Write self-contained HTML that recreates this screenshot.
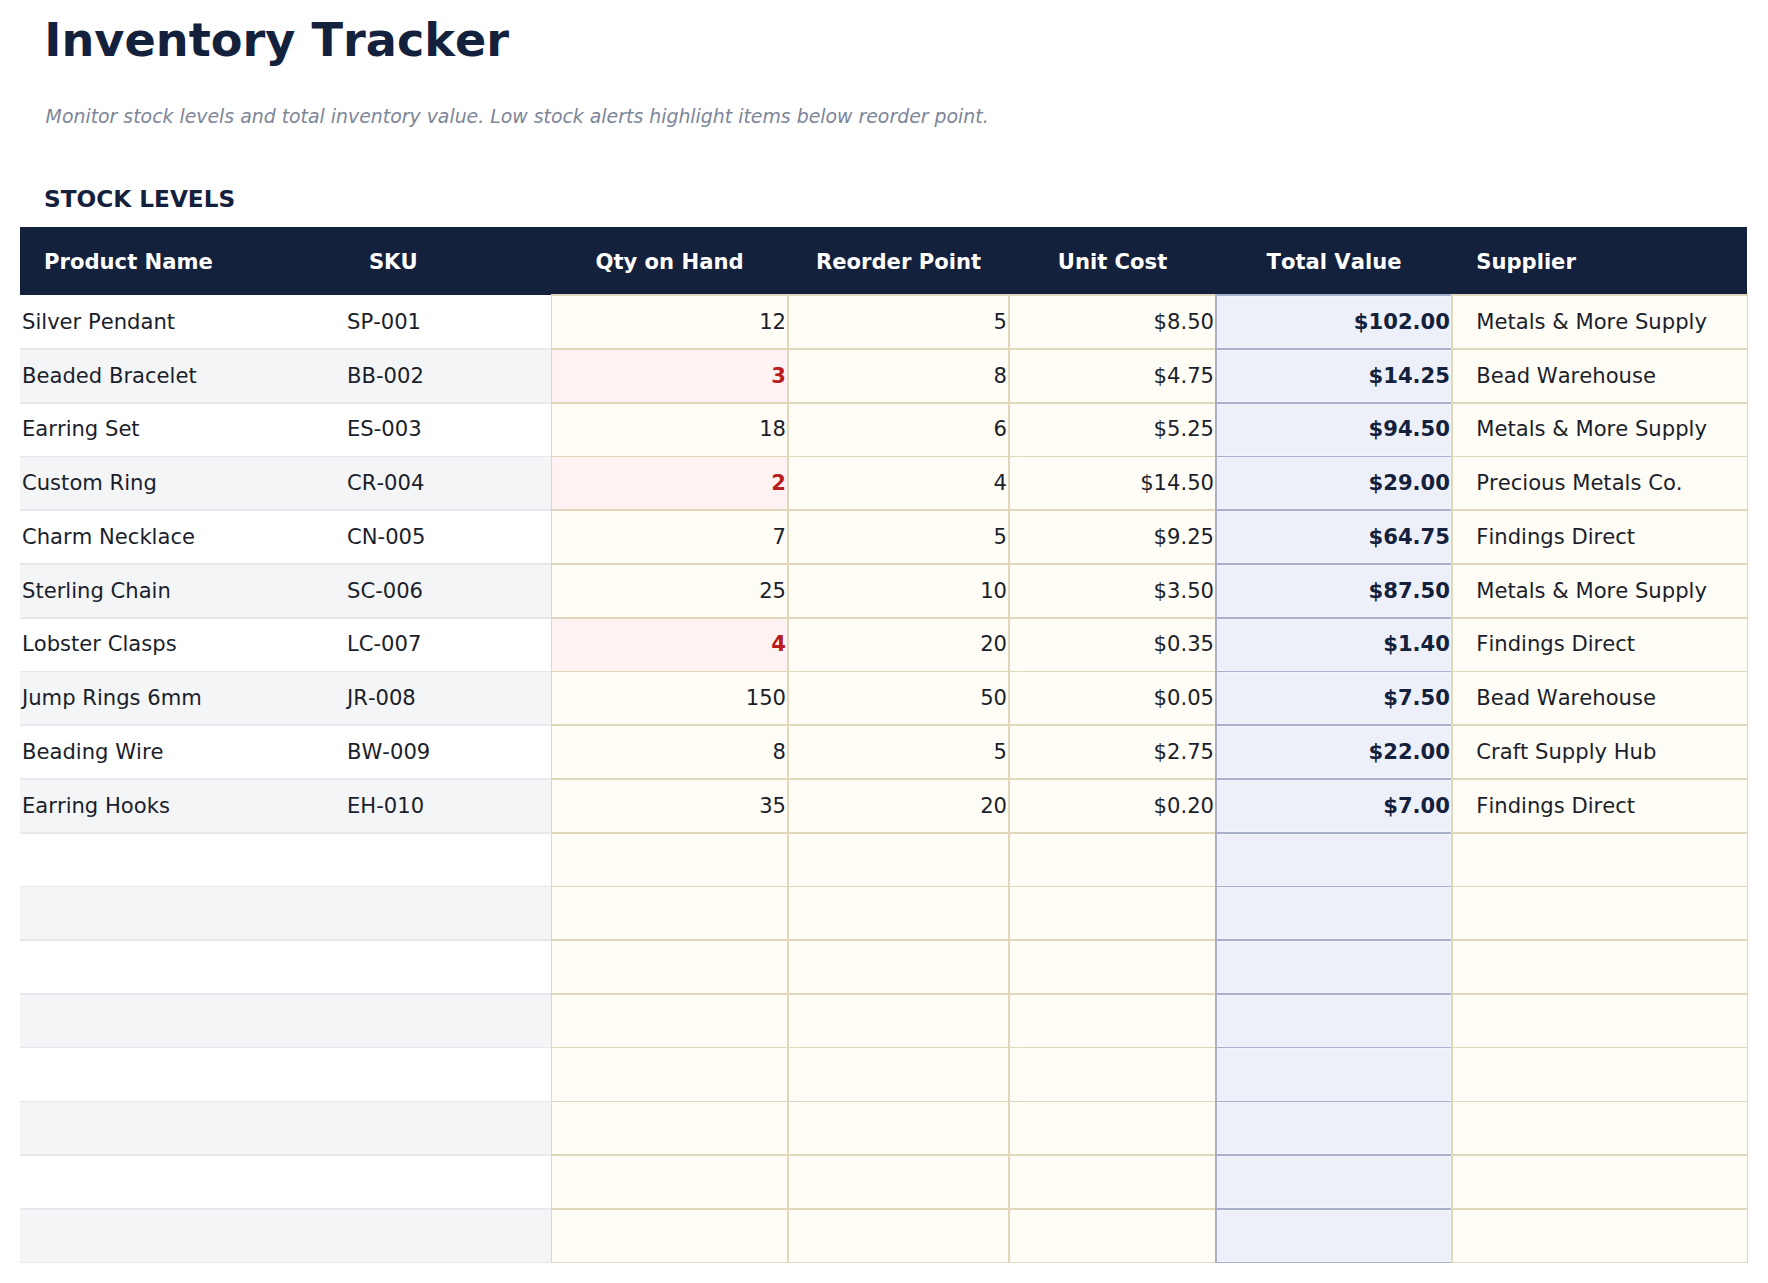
<!DOCTYPE html><html lang="en"><head><meta charset="utf-8"><title>Inventory Tracker</title><style>
*{box-sizing:border-box;margin:0;padding:0}
html,body{width:1768px;height:1283px;background:#fff;overflow:hidden}
body{position:relative;font-kerning:none;font-variant-ligatures:none;font-family:"DejaVu Sans","Liberation Sans",sans-serif;color:#1b1e2b;font-size:21.12px}
.abs,.c,.r,.h,.hl,.vl{position:absolute;white-space:nowrap}
h1{position:absolute;left:44.3px;top:9.6px;font-size:46.2px;line-height:60px;font-weight:bold;color:#14213d;white-space:nowrap}
.sub{left:45.6px;top:101px;font-size:18.89px;line-height:30px;font-style:italic;color:#7d8699}
h2{position:absolute;left:44px;top:183.4px;font-size:23.2px;line-height:32px;font-weight:bold;color:#14213d;white-space:nowrap}
.head{left:20px;top:227px;width:1727px;height:68px;background:#14213d}
.h{top:228px;height:68px;line-height:68px;color:#fff;font-weight:bold;text-align:center}
.r{left:20px;width:531px}
.r.g{background:#f4f5f7}
.c{line-height:inherit}
.cream{background:#fffdf6}
.pink{background:#fef2f2}
.tot{background:#edf0f9}
.num{text-align:right;padding-right:2.5px}
.low{color:#b91c1c;font-weight:bold}
.tv{font-weight:bold;color:#14213d}
.hl,.vl{pointer-events:none}
.ring{position:absolute;border:1px solid #f2f4fb}
</style></head><body>
<h1>Inventory Tracker</h1>
<div class="abs sub">Monitor stock levels and total inventory value. Low stock alerts highlight items below reorder point.</div>
<h2>STOCK LEVELS</h2>
<div class="abs head"></div>
<div class="h" style="left:44.1px;text-align:left">Product Name</div>
<div class="h" style="left:345px;width:96.5px">SKU</div>
<div class="h" style="left:551px;width:237px">Qty on Hand</div>
<div class="h" style="left:788px;width:221px">Reorder Point</div>
<div class="h" style="left:1009px;width:207px">Unit Cost</div>
<div class="h" style="left:1216px;width:236px">Total Value</div>
<div class="h" style="left:1476.2px;text-align:left">Supplier</div>
<div class="r" style="top:294px;height:54px"></div>
<div class="c " style="left:20px;width:325px;top:294px;height:54px"><div style="position:absolute;left:0;right:0;top:0.82px;line-height:53.76px;padding-left:2px">Silver Pendant</div></div>
<div class="c " style="left:345px;width:206px;top:294px;height:54px"><div style="position:absolute;left:0;right:0;top:0.82px;line-height:53.76px;padding-left:2px">SP-001</div></div>
<div class="c cream" style="left:551px;width:237px;top:294px;height:54px"><div style="position:absolute;left:0;right:0;top:0.82px;line-height:53.76px;text-align:right;padding-right:2px">12</div></div>
<div class="c cream" style="left:788px;width:221px;top:294px;height:54px"><div style="position:absolute;left:0;right:0;top:0.82px;line-height:53.76px;text-align:right;padding-right:2px">5</div></div>
<div class="c cream" style="left:1009px;width:207px;top:294px;height:54px"><div style="position:absolute;left:0;right:0;top:0.82px;line-height:53.76px;text-align:right;padding-right:2px">$8.50</div></div>
<div class="c tot" style="left:1216px;width:236px;top:294px;height:54px"><div style="position:absolute;left:0;right:0;top:0.82px;line-height:53.76px;text-align:right;padding-right:2px"><span class="tv">$102.00</span></div></div>
<div class="ring" style="left:1217px;width:234px;top:296px;height:52px"></div>
<div class="c cream" style="left:1452px;width:296px;top:294px;height:54px"><div style="position:absolute;left:0;right:0;top:0.82px;line-height:53.76px;padding-left:24.3px">Metals &amp; More Supply</div></div>
<div class="r g" style="top:348px;height:54px"></div>
<div class="c " style="left:20px;width:325px;top:348px;height:54px"><div style="position:absolute;left:0;right:0;top:0.58px;line-height:53.76px;padding-left:2px">Beaded Bracelet</div></div>
<div class="c " style="left:345px;width:206px;top:348px;height:54px"><div style="position:absolute;left:0;right:0;top:0.58px;line-height:53.76px;padding-left:2px">BB-002</div></div>
<div class="c pink" style="left:551px;width:237px;top:348px;height:54px"><div style="position:absolute;left:0;right:0;top:0.58px;line-height:53.76px;text-align:right;padding-right:2px"><span class="low">3</span></div></div>
<div class="c cream" style="left:788px;width:221px;top:348px;height:54px"><div style="position:absolute;left:0;right:0;top:0.58px;line-height:53.76px;text-align:right;padding-right:2px">8</div></div>
<div class="c cream" style="left:1009px;width:207px;top:348px;height:54px"><div style="position:absolute;left:0;right:0;top:0.58px;line-height:53.76px;text-align:right;padding-right:2px">$4.75</div></div>
<div class="c tot" style="left:1216px;width:236px;top:348px;height:54px"><div style="position:absolute;left:0;right:0;top:0.58px;line-height:53.76px;text-align:right;padding-right:2px"><span class="tv">$14.25</span></div></div>
<div class="ring" style="left:1217px;width:234px;top:350px;height:52px"></div>
<div class="c cream" style="left:1452px;width:296px;top:348px;height:54px"><div style="position:absolute;left:0;right:0;top:0.58px;line-height:53.76px;padding-left:24.3px">Bead Warehouse</div></div>
<div class="r" style="top:402px;height:54px"></div>
<div class="c " style="left:20px;width:325px;top:402px;height:54px"><div style="position:absolute;left:0;right:0;top:0.34px;line-height:53.76px;padding-left:2px">Earring Set</div></div>
<div class="c " style="left:345px;width:206px;top:402px;height:54px"><div style="position:absolute;left:0;right:0;top:0.34px;line-height:53.76px;padding-left:2px">ES-003</div></div>
<div class="c cream" style="left:551px;width:237px;top:402px;height:54px"><div style="position:absolute;left:0;right:0;top:0.34px;line-height:53.76px;text-align:right;padding-right:2px">18</div></div>
<div class="c cream" style="left:788px;width:221px;top:402px;height:54px"><div style="position:absolute;left:0;right:0;top:0.34px;line-height:53.76px;text-align:right;padding-right:2px">6</div></div>
<div class="c cream" style="left:1009px;width:207px;top:402px;height:54px"><div style="position:absolute;left:0;right:0;top:0.34px;line-height:53.76px;text-align:right;padding-right:2px">$5.25</div></div>
<div class="c tot" style="left:1216px;width:236px;top:402px;height:54px"><div style="position:absolute;left:0;right:0;top:0.34px;line-height:53.76px;text-align:right;padding-right:2px"><span class="tv">$94.50</span></div></div>
<div class="ring" style="left:1217px;width:234px;top:404px;height:52px"></div>
<div class="c cream" style="left:1452px;width:296px;top:402px;height:54px"><div style="position:absolute;left:0;right:0;top:0.34px;line-height:53.76px;padding-left:24.3px">Metals &amp; More Supply</div></div>
<div class="r g" style="top:456px;height:53px"></div>
<div class="c " style="left:20px;width:325px;top:456px;height:53px"><div style="position:absolute;left:0;right:0;top:0.10px;line-height:53.76px;padding-left:2px">Custom Ring</div></div>
<div class="c " style="left:345px;width:206px;top:456px;height:53px"><div style="position:absolute;left:0;right:0;top:0.10px;line-height:53.76px;padding-left:2px">CR-004</div></div>
<div class="c pink" style="left:551px;width:237px;top:456px;height:53px"><div style="position:absolute;left:0;right:0;top:0.10px;line-height:53.76px;text-align:right;padding-right:2px"><span class="low">2</span></div></div>
<div class="c cream" style="left:788px;width:221px;top:456px;height:53px"><div style="position:absolute;left:0;right:0;top:0.10px;line-height:53.76px;text-align:right;padding-right:2px">4</div></div>
<div class="c cream" style="left:1009px;width:207px;top:456px;height:53px"><div style="position:absolute;left:0;right:0;top:0.10px;line-height:53.76px;text-align:right;padding-right:2px">$14.50</div></div>
<div class="c tot" style="left:1216px;width:236px;top:456px;height:53px"><div style="position:absolute;left:0;right:0;top:0.10px;line-height:53.76px;text-align:right;padding-right:2px"><span class="tv">$29.00</span></div></div>
<div class="ring" style="left:1217px;width:234px;top:457px;height:52px"></div>
<div class="c cream" style="left:1452px;width:296px;top:456px;height:53px"><div style="position:absolute;left:0;right:0;top:0.10px;line-height:53.76px;padding-left:24.3px">Precious Metals Co.</div></div>
<div class="r" style="top:509px;height:54px"></div>
<div class="c " style="left:20px;width:325px;top:509px;height:54px"><div style="position:absolute;left:0;right:0;top:0.86px;line-height:53.76px;padding-left:2px">Charm Necklace</div></div>
<div class="c " style="left:345px;width:206px;top:509px;height:54px"><div style="position:absolute;left:0;right:0;top:0.86px;line-height:53.76px;padding-left:2px">CN-005</div></div>
<div class="c cream" style="left:551px;width:237px;top:509px;height:54px"><div style="position:absolute;left:0;right:0;top:0.86px;line-height:53.76px;text-align:right;padding-right:2px">7</div></div>
<div class="c cream" style="left:788px;width:221px;top:509px;height:54px"><div style="position:absolute;left:0;right:0;top:0.86px;line-height:53.76px;text-align:right;padding-right:2px">5</div></div>
<div class="c cream" style="left:1009px;width:207px;top:509px;height:54px"><div style="position:absolute;left:0;right:0;top:0.86px;line-height:53.76px;text-align:right;padding-right:2px">$9.25</div></div>
<div class="c tot" style="left:1216px;width:236px;top:509px;height:54px"><div style="position:absolute;left:0;right:0;top:0.86px;line-height:53.76px;text-align:right;padding-right:2px"><span class="tv">$64.75</span></div></div>
<div class="ring" style="left:1217px;width:234px;top:511px;height:52px"></div>
<div class="c cream" style="left:1452px;width:296px;top:509px;height:54px"><div style="position:absolute;left:0;right:0;top:0.86px;line-height:53.76px;padding-left:24.3px">Findings Direct</div></div>
<div class="r g" style="top:563px;height:54px"></div>
<div class="c " style="left:20px;width:325px;top:563px;height:54px"><div style="position:absolute;left:0;right:0;top:0.62px;line-height:53.76px;padding-left:2px">Sterling Chain</div></div>
<div class="c " style="left:345px;width:206px;top:563px;height:54px"><div style="position:absolute;left:0;right:0;top:0.62px;line-height:53.76px;padding-left:2px">SC-006</div></div>
<div class="c cream" style="left:551px;width:237px;top:563px;height:54px"><div style="position:absolute;left:0;right:0;top:0.62px;line-height:53.76px;text-align:right;padding-right:2px">25</div></div>
<div class="c cream" style="left:788px;width:221px;top:563px;height:54px"><div style="position:absolute;left:0;right:0;top:0.62px;line-height:53.76px;text-align:right;padding-right:2px">10</div></div>
<div class="c cream" style="left:1009px;width:207px;top:563px;height:54px"><div style="position:absolute;left:0;right:0;top:0.62px;line-height:53.76px;text-align:right;padding-right:2px">$3.50</div></div>
<div class="c tot" style="left:1216px;width:236px;top:563px;height:54px"><div style="position:absolute;left:0;right:0;top:0.62px;line-height:53.76px;text-align:right;padding-right:2px"><span class="tv">$87.50</span></div></div>
<div class="ring" style="left:1217px;width:234px;top:565px;height:52px"></div>
<div class="c cream" style="left:1452px;width:296px;top:563px;height:54px"><div style="position:absolute;left:0;right:0;top:0.62px;line-height:53.76px;padding-left:24.3px">Metals &amp; More Supply</div></div>
<div class="r" style="top:617px;height:54px"></div>
<div class="c " style="left:20px;width:325px;top:617px;height:54px"><div style="position:absolute;left:0;right:0;top:0.38px;line-height:53.76px;padding-left:2px">Lobster Clasps</div></div>
<div class="c " style="left:345px;width:206px;top:617px;height:54px"><div style="position:absolute;left:0;right:0;top:0.38px;line-height:53.76px;padding-left:2px">LC-007</div></div>
<div class="c pink" style="left:551px;width:237px;top:617px;height:54px"><div style="position:absolute;left:0;right:0;top:0.38px;line-height:53.76px;text-align:right;padding-right:2px"><span class="low">4</span></div></div>
<div class="c cream" style="left:788px;width:221px;top:617px;height:54px"><div style="position:absolute;left:0;right:0;top:0.38px;line-height:53.76px;text-align:right;padding-right:2px">20</div></div>
<div class="c cream" style="left:1009px;width:207px;top:617px;height:54px"><div style="position:absolute;left:0;right:0;top:0.38px;line-height:53.76px;text-align:right;padding-right:2px">$0.35</div></div>
<div class="c tot" style="left:1216px;width:236px;top:617px;height:54px"><div style="position:absolute;left:0;right:0;top:0.38px;line-height:53.76px;text-align:right;padding-right:2px"><span class="tv">$1.40</span></div></div>
<div class="ring" style="left:1217px;width:234px;top:619px;height:52px"></div>
<div class="c cream" style="left:1452px;width:296px;top:617px;height:54px"><div style="position:absolute;left:0;right:0;top:0.38px;line-height:53.76px;padding-left:24.3px">Findings Direct</div></div>
<div class="r g" style="top:671px;height:53px"></div>
<div class="c " style="left:20px;width:325px;top:671px;height:53px"><div style="position:absolute;left:0;right:0;top:0.14px;line-height:53.76px;padding-left:2px">Jump Rings 6mm</div></div>
<div class="c " style="left:345px;width:206px;top:671px;height:53px"><div style="position:absolute;left:0;right:0;top:0.14px;line-height:53.76px;padding-left:2px">JR-008</div></div>
<div class="c cream" style="left:551px;width:237px;top:671px;height:53px"><div style="position:absolute;left:0;right:0;top:0.14px;line-height:53.76px;text-align:right;padding-right:2px">150</div></div>
<div class="c cream" style="left:788px;width:221px;top:671px;height:53px"><div style="position:absolute;left:0;right:0;top:0.14px;line-height:53.76px;text-align:right;padding-right:2px">50</div></div>
<div class="c cream" style="left:1009px;width:207px;top:671px;height:53px"><div style="position:absolute;left:0;right:0;top:0.14px;line-height:53.76px;text-align:right;padding-right:2px">$0.05</div></div>
<div class="c tot" style="left:1216px;width:236px;top:671px;height:53px"><div style="position:absolute;left:0;right:0;top:0.14px;line-height:53.76px;text-align:right;padding-right:2px"><span class="tv">$7.50</span></div></div>
<div class="ring" style="left:1217px;width:234px;top:672px;height:52px"></div>
<div class="c cream" style="left:1452px;width:296px;top:671px;height:53px"><div style="position:absolute;left:0;right:0;top:0.14px;line-height:53.76px;padding-left:24.3px">Bead Warehouse</div></div>
<div class="r" style="top:724px;height:54px"></div>
<div class="c " style="left:20px;width:325px;top:724px;height:54px"><div style="position:absolute;left:0;right:0;top:0.90px;line-height:53.76px;padding-left:2px">Beading Wire</div></div>
<div class="c " style="left:345px;width:206px;top:724px;height:54px"><div style="position:absolute;left:0;right:0;top:0.90px;line-height:53.76px;padding-left:2px">BW-009</div></div>
<div class="c cream" style="left:551px;width:237px;top:724px;height:54px"><div style="position:absolute;left:0;right:0;top:0.90px;line-height:53.76px;text-align:right;padding-right:2px">8</div></div>
<div class="c cream" style="left:788px;width:221px;top:724px;height:54px"><div style="position:absolute;left:0;right:0;top:0.90px;line-height:53.76px;text-align:right;padding-right:2px">5</div></div>
<div class="c cream" style="left:1009px;width:207px;top:724px;height:54px"><div style="position:absolute;left:0;right:0;top:0.90px;line-height:53.76px;text-align:right;padding-right:2px">$2.75</div></div>
<div class="c tot" style="left:1216px;width:236px;top:724px;height:54px"><div style="position:absolute;left:0;right:0;top:0.90px;line-height:53.76px;text-align:right;padding-right:2px"><span class="tv">$22.00</span></div></div>
<div class="ring" style="left:1217px;width:234px;top:726px;height:52px"></div>
<div class="c cream" style="left:1452px;width:296px;top:724px;height:54px"><div style="position:absolute;left:0;right:0;top:0.90px;line-height:53.76px;padding-left:24.3px">Craft Supply Hub</div></div>
<div class="r g" style="top:778px;height:54px"></div>
<div class="c " style="left:20px;width:325px;top:778px;height:54px"><div style="position:absolute;left:0;right:0;top:0.66px;line-height:53.76px;padding-left:2px">Earring Hooks</div></div>
<div class="c " style="left:345px;width:206px;top:778px;height:54px"><div style="position:absolute;left:0;right:0;top:0.66px;line-height:53.76px;padding-left:2px">EH-010</div></div>
<div class="c cream" style="left:551px;width:237px;top:778px;height:54px"><div style="position:absolute;left:0;right:0;top:0.66px;line-height:53.76px;text-align:right;padding-right:2px">35</div></div>
<div class="c cream" style="left:788px;width:221px;top:778px;height:54px"><div style="position:absolute;left:0;right:0;top:0.66px;line-height:53.76px;text-align:right;padding-right:2px">20</div></div>
<div class="c cream" style="left:1009px;width:207px;top:778px;height:54px"><div style="position:absolute;left:0;right:0;top:0.66px;line-height:53.76px;text-align:right;padding-right:2px">$0.20</div></div>
<div class="c tot" style="left:1216px;width:236px;top:778px;height:54px"><div style="position:absolute;left:0;right:0;top:0.66px;line-height:53.76px;text-align:right;padding-right:2px"><span class="tv">$7.00</span></div></div>
<div class="ring" style="left:1217px;width:234px;top:780px;height:52px"></div>
<div class="c cream" style="left:1452px;width:296px;top:778px;height:54px"><div style="position:absolute;left:0;right:0;top:0.66px;line-height:53.76px;padding-left:24.3px">Findings Direct</div></div>
<div class="r" style="top:832px;height:54px"></div>
<div class="c " style="left:20px;width:325px;top:832px;height:54px"><div style="position:absolute;left:0;right:0;top:0.42px;line-height:53.76px;padding-left:2px"></div></div>
<div class="c " style="left:345px;width:206px;top:832px;height:54px"><div style="position:absolute;left:0;right:0;top:0.42px;line-height:53.76px;padding-left:2px"></div></div>
<div class="c cream" style="left:551px;width:237px;top:832px;height:54px"><div style="position:absolute;left:0;right:0;top:0.42px;line-height:53.76px;text-align:right;padding-right:2px"></div></div>
<div class="c cream" style="left:788px;width:221px;top:832px;height:54px"><div style="position:absolute;left:0;right:0;top:0.42px;line-height:53.76px;text-align:right;padding-right:2px"></div></div>
<div class="c cream" style="left:1009px;width:207px;top:832px;height:54px"><div style="position:absolute;left:0;right:0;top:0.42px;line-height:53.76px;text-align:right;padding-right:2px"></div></div>
<div class="c tot" style="left:1216px;width:236px;top:832px;height:54px"><div style="position:absolute;left:0;right:0;top:0.42px;line-height:53.76px;text-align:right;padding-right:2px"><span class="tv"></span></div></div>
<div class="ring" style="left:1217px;width:234px;top:834px;height:52px"></div>
<div class="c cream" style="left:1452px;width:296px;top:832px;height:54px"><div style="position:absolute;left:0;right:0;top:0.42px;line-height:53.76px;padding-left:24.3px"></div></div>
<div class="r g" style="top:886px;height:53px"></div>
<div class="c " style="left:20px;width:325px;top:886px;height:53px"><div style="position:absolute;left:0;right:0;top:0.18px;line-height:53.76px;padding-left:2px"></div></div>
<div class="c " style="left:345px;width:206px;top:886px;height:53px"><div style="position:absolute;left:0;right:0;top:0.18px;line-height:53.76px;padding-left:2px"></div></div>
<div class="c cream" style="left:551px;width:237px;top:886px;height:53px"><div style="position:absolute;left:0;right:0;top:0.18px;line-height:53.76px;text-align:right;padding-right:2px"></div></div>
<div class="c cream" style="left:788px;width:221px;top:886px;height:53px"><div style="position:absolute;left:0;right:0;top:0.18px;line-height:53.76px;text-align:right;padding-right:2px"></div></div>
<div class="c cream" style="left:1009px;width:207px;top:886px;height:53px"><div style="position:absolute;left:0;right:0;top:0.18px;line-height:53.76px;text-align:right;padding-right:2px"></div></div>
<div class="c tot" style="left:1216px;width:236px;top:886px;height:53px"><div style="position:absolute;left:0;right:0;top:0.18px;line-height:53.76px;text-align:right;padding-right:2px"><span class="tv"></span></div></div>
<div class="ring" style="left:1217px;width:234px;top:887px;height:52px"></div>
<div class="c cream" style="left:1452px;width:296px;top:886px;height:53px"><div style="position:absolute;left:0;right:0;top:0.18px;line-height:53.76px;padding-left:24.3px"></div></div>
<div class="r" style="top:939px;height:54px"></div>
<div class="c " style="left:20px;width:325px;top:939px;height:54px"><div style="position:absolute;left:0;right:0;top:0.94px;line-height:53.76px;padding-left:2px"></div></div>
<div class="c " style="left:345px;width:206px;top:939px;height:54px"><div style="position:absolute;left:0;right:0;top:0.94px;line-height:53.76px;padding-left:2px"></div></div>
<div class="c cream" style="left:551px;width:237px;top:939px;height:54px"><div style="position:absolute;left:0;right:0;top:0.94px;line-height:53.76px;text-align:right;padding-right:2px"></div></div>
<div class="c cream" style="left:788px;width:221px;top:939px;height:54px"><div style="position:absolute;left:0;right:0;top:0.94px;line-height:53.76px;text-align:right;padding-right:2px"></div></div>
<div class="c cream" style="left:1009px;width:207px;top:939px;height:54px"><div style="position:absolute;left:0;right:0;top:0.94px;line-height:53.76px;text-align:right;padding-right:2px"></div></div>
<div class="c tot" style="left:1216px;width:236px;top:939px;height:54px"><div style="position:absolute;left:0;right:0;top:0.94px;line-height:53.76px;text-align:right;padding-right:2px"><span class="tv"></span></div></div>
<div class="ring" style="left:1217px;width:234px;top:941px;height:52px"></div>
<div class="c cream" style="left:1452px;width:296px;top:939px;height:54px"><div style="position:absolute;left:0;right:0;top:0.94px;line-height:53.76px;padding-left:24.3px"></div></div>
<div class="r g" style="top:993px;height:54px"></div>
<div class="c " style="left:20px;width:325px;top:993px;height:54px"><div style="position:absolute;left:0;right:0;top:0.70px;line-height:53.76px;padding-left:2px"></div></div>
<div class="c " style="left:345px;width:206px;top:993px;height:54px"><div style="position:absolute;left:0;right:0;top:0.70px;line-height:53.76px;padding-left:2px"></div></div>
<div class="c cream" style="left:551px;width:237px;top:993px;height:54px"><div style="position:absolute;left:0;right:0;top:0.70px;line-height:53.76px;text-align:right;padding-right:2px"></div></div>
<div class="c cream" style="left:788px;width:221px;top:993px;height:54px"><div style="position:absolute;left:0;right:0;top:0.70px;line-height:53.76px;text-align:right;padding-right:2px"></div></div>
<div class="c cream" style="left:1009px;width:207px;top:993px;height:54px"><div style="position:absolute;left:0;right:0;top:0.70px;line-height:53.76px;text-align:right;padding-right:2px"></div></div>
<div class="c tot" style="left:1216px;width:236px;top:993px;height:54px"><div style="position:absolute;left:0;right:0;top:0.70px;line-height:53.76px;text-align:right;padding-right:2px"><span class="tv"></span></div></div>
<div class="ring" style="left:1217px;width:234px;top:995px;height:52px"></div>
<div class="c cream" style="left:1452px;width:296px;top:993px;height:54px"><div style="position:absolute;left:0;right:0;top:0.70px;line-height:53.76px;padding-left:24.3px"></div></div>
<div class="r" style="top:1047px;height:54px"></div>
<div class="c " style="left:20px;width:325px;top:1047px;height:54px"><div style="position:absolute;left:0;right:0;top:0.46px;line-height:53.76px;padding-left:2px"></div></div>
<div class="c " style="left:345px;width:206px;top:1047px;height:54px"><div style="position:absolute;left:0;right:0;top:0.46px;line-height:53.76px;padding-left:2px"></div></div>
<div class="c cream" style="left:551px;width:237px;top:1047px;height:54px"><div style="position:absolute;left:0;right:0;top:0.46px;line-height:53.76px;text-align:right;padding-right:2px"></div></div>
<div class="c cream" style="left:788px;width:221px;top:1047px;height:54px"><div style="position:absolute;left:0;right:0;top:0.46px;line-height:53.76px;text-align:right;padding-right:2px"></div></div>
<div class="c cream" style="left:1009px;width:207px;top:1047px;height:54px"><div style="position:absolute;left:0;right:0;top:0.46px;line-height:53.76px;text-align:right;padding-right:2px"></div></div>
<div class="c tot" style="left:1216px;width:236px;top:1047px;height:54px"><div style="position:absolute;left:0;right:0;top:0.46px;line-height:53.76px;text-align:right;padding-right:2px"><span class="tv"></span></div></div>
<div class="ring" style="left:1217px;width:234px;top:1048px;height:53px"></div>
<div class="c cream" style="left:1452px;width:296px;top:1047px;height:54px"><div style="position:absolute;left:0;right:0;top:0.46px;line-height:53.76px;padding-left:24.3px"></div></div>
<div class="r g" style="top:1101px;height:53px"></div>
<div class="c " style="left:20px;width:325px;top:1101px;height:53px"><div style="position:absolute;left:0;right:0;top:0.22px;line-height:53.76px;padding-left:2px"></div></div>
<div class="c " style="left:345px;width:206px;top:1101px;height:53px"><div style="position:absolute;left:0;right:0;top:0.22px;line-height:53.76px;padding-left:2px"></div></div>
<div class="c cream" style="left:551px;width:237px;top:1101px;height:53px"><div style="position:absolute;left:0;right:0;top:0.22px;line-height:53.76px;text-align:right;padding-right:2px"></div></div>
<div class="c cream" style="left:788px;width:221px;top:1101px;height:53px"><div style="position:absolute;left:0;right:0;top:0.22px;line-height:53.76px;text-align:right;padding-right:2px"></div></div>
<div class="c cream" style="left:1009px;width:207px;top:1101px;height:53px"><div style="position:absolute;left:0;right:0;top:0.22px;line-height:53.76px;text-align:right;padding-right:2px"></div></div>
<div class="c tot" style="left:1216px;width:236px;top:1101px;height:53px"><div style="position:absolute;left:0;right:0;top:0.22px;line-height:53.76px;text-align:right;padding-right:2px"><span class="tv"></span></div></div>
<div class="ring" style="left:1217px;width:234px;top:1102px;height:52px"></div>
<div class="c cream" style="left:1452px;width:296px;top:1101px;height:53px"><div style="position:absolute;left:0;right:0;top:0.22px;line-height:53.76px;padding-left:24.3px"></div></div>
<div class="r" style="top:1154px;height:54px"></div>
<div class="c " style="left:20px;width:325px;top:1154px;height:54px"><div style="position:absolute;left:0;right:0;top:0.98px;line-height:53.76px;padding-left:2px"></div></div>
<div class="c " style="left:345px;width:206px;top:1154px;height:54px"><div style="position:absolute;left:0;right:0;top:0.98px;line-height:53.76px;padding-left:2px"></div></div>
<div class="c cream" style="left:551px;width:237px;top:1154px;height:54px"><div style="position:absolute;left:0;right:0;top:0.98px;line-height:53.76px;text-align:right;padding-right:2px"></div></div>
<div class="c cream" style="left:788px;width:221px;top:1154px;height:54px"><div style="position:absolute;left:0;right:0;top:0.98px;line-height:53.76px;text-align:right;padding-right:2px"></div></div>
<div class="c cream" style="left:1009px;width:207px;top:1154px;height:54px"><div style="position:absolute;left:0;right:0;top:0.98px;line-height:53.76px;text-align:right;padding-right:2px"></div></div>
<div class="c tot" style="left:1216px;width:236px;top:1154px;height:54px"><div style="position:absolute;left:0;right:0;top:0.98px;line-height:53.76px;text-align:right;padding-right:2px"><span class="tv"></span></div></div>
<div class="ring" style="left:1217px;width:234px;top:1156px;height:52px"></div>
<div class="c cream" style="left:1452px;width:296px;top:1154px;height:54px"><div style="position:absolute;left:0;right:0;top:0.98px;line-height:53.76px;padding-left:24.3px"></div></div>
<div class="r g" style="top:1208px;height:54px"></div>
<div class="c " style="left:20px;width:325px;top:1208px;height:54px"><div style="position:absolute;left:0;right:0;top:0.74px;line-height:53.76px;padding-left:2px"></div></div>
<div class="c " style="left:345px;width:206px;top:1208px;height:54px"><div style="position:absolute;left:0;right:0;top:0.74px;line-height:53.76px;padding-left:2px"></div></div>
<div class="c cream" style="left:551px;width:237px;top:1208px;height:54px"><div style="position:absolute;left:0;right:0;top:0.74px;line-height:53.76px;text-align:right;padding-right:2px"></div></div>
<div class="c cream" style="left:788px;width:221px;top:1208px;height:54px"><div style="position:absolute;left:0;right:0;top:0.74px;line-height:53.76px;text-align:right;padding-right:2px"></div></div>
<div class="c cream" style="left:1009px;width:207px;top:1208px;height:54px"><div style="position:absolute;left:0;right:0;top:0.74px;line-height:53.76px;text-align:right;padding-right:2px"></div></div>
<div class="c tot" style="left:1216px;width:236px;top:1208px;height:54px"><div style="position:absolute;left:0;right:0;top:0.74px;line-height:53.76px;text-align:right;padding-right:2px"><span class="tv"></span></div></div>
<div class="ring" style="left:1217px;width:234px;top:1210px;height:52px"></div>
<div class="c cream" style="left:1452px;width:296px;top:1208px;height:54px"><div style="position:absolute;left:0;right:0;top:0.74px;line-height:53.76px;padding-left:24.3px"></div></div>
<div class="hl" style="left:551px;width:1197px;top:294px;height:2px;background:#e1d7ba"></div>
<div class="hl" style="left:1215px;width:236px;top:294px;height:2px;background:#a8afcb"></div>
<div class="hl" style="left:20px;width:531px;top:348px;height:2px;background:#e6e8ee"></div>
<div class="hl" style="left:551px;width:1197px;top:348px;height:2px;background:#e1d7ba"></div>
<div class="hl" style="left:1215px;width:236px;top:348px;height:2px;background:#a8afcb"></div>
<div class="hl" style="left:20px;width:531px;top:402px;height:2px;background:#e6e8ee"></div>
<div class="hl" style="left:551px;width:1197px;top:402px;height:2px;background:#e1d7ba"></div>
<div class="hl" style="left:1215px;width:236px;top:402px;height:2px;background:#a8afcb"></div>
<div class="hl" style="left:20px;width:531px;top:456px;height:1px;background:#e6e8ee"></div>
<div class="hl" style="left:551px;width:1197px;top:456px;height:1px;background:#e1d7ba"></div>
<div class="hl" style="left:1215px;width:236px;top:456px;height:1px;background:#a8afcb"></div>
<div class="hl" style="left:20px;width:531px;top:509px;height:2px;background:#e6e8ee"></div>
<div class="hl" style="left:551px;width:1197px;top:509px;height:2px;background:#e1d7ba"></div>
<div class="hl" style="left:1215px;width:236px;top:509px;height:2px;background:#a8afcb"></div>
<div class="hl" style="left:20px;width:531px;top:563px;height:2px;background:#e6e8ee"></div>
<div class="hl" style="left:551px;width:1197px;top:563px;height:2px;background:#e1d7ba"></div>
<div class="hl" style="left:1215px;width:236px;top:563px;height:2px;background:#a8afcb"></div>
<div class="hl" style="left:20px;width:531px;top:617px;height:2px;background:#e6e8ee"></div>
<div class="hl" style="left:551px;width:1197px;top:617px;height:2px;background:#e1d7ba"></div>
<div class="hl" style="left:1215px;width:236px;top:617px;height:2px;background:#a8afcb"></div>
<div class="hl" style="left:20px;width:531px;top:671px;height:1px;background:#e6e8ee"></div>
<div class="hl" style="left:551px;width:1197px;top:671px;height:1px;background:#e1d7ba"></div>
<div class="hl" style="left:1215px;width:236px;top:671px;height:1px;background:#a8afcb"></div>
<div class="hl" style="left:20px;width:531px;top:724px;height:2px;background:#e6e8ee"></div>
<div class="hl" style="left:551px;width:1197px;top:724px;height:2px;background:#e1d7ba"></div>
<div class="hl" style="left:1215px;width:236px;top:724px;height:2px;background:#a8afcb"></div>
<div class="hl" style="left:20px;width:531px;top:778px;height:2px;background:#e6e8ee"></div>
<div class="hl" style="left:551px;width:1197px;top:778px;height:2px;background:#e1d7ba"></div>
<div class="hl" style="left:1215px;width:236px;top:778px;height:2px;background:#a8afcb"></div>
<div class="hl" style="left:20px;width:531px;top:832px;height:2px;background:#e6e8ee"></div>
<div class="hl" style="left:551px;width:1197px;top:832px;height:2px;background:#e1d7ba"></div>
<div class="hl" style="left:1215px;width:236px;top:832px;height:2px;background:#a8afcb"></div>
<div class="hl" style="left:20px;width:531px;top:886px;height:1px;background:#e6e8ee"></div>
<div class="hl" style="left:551px;width:1197px;top:886px;height:1px;background:#e1d7ba"></div>
<div class="hl" style="left:1215px;width:236px;top:886px;height:1px;background:#a8afcb"></div>
<div class="hl" style="left:20px;width:531px;top:939px;height:2px;background:#e6e8ee"></div>
<div class="hl" style="left:551px;width:1197px;top:939px;height:2px;background:#e1d7ba"></div>
<div class="hl" style="left:1215px;width:236px;top:939px;height:2px;background:#a8afcb"></div>
<div class="hl" style="left:20px;width:531px;top:993px;height:2px;background:#e6e8ee"></div>
<div class="hl" style="left:551px;width:1197px;top:993px;height:2px;background:#e1d7ba"></div>
<div class="hl" style="left:1215px;width:236px;top:993px;height:2px;background:#a8afcb"></div>
<div class="hl" style="left:20px;width:531px;top:1047px;height:1px;background:#e6e8ee"></div>
<div class="hl" style="left:551px;width:1197px;top:1047px;height:1px;background:#e1d7ba"></div>
<div class="hl" style="left:1215px;width:236px;top:1047px;height:1px;background:#a8afcb"></div>
<div class="hl" style="left:20px;width:531px;top:1101px;height:1px;background:#e6e8ee"></div>
<div class="hl" style="left:551px;width:1197px;top:1101px;height:1px;background:#e1d7ba"></div>
<div class="hl" style="left:1215px;width:236px;top:1101px;height:1px;background:#a8afcb"></div>
<div class="hl" style="left:20px;width:531px;top:1154px;height:2px;background:#e6e8ee"></div>
<div class="hl" style="left:551px;width:1197px;top:1154px;height:2px;background:#e1d7ba"></div>
<div class="hl" style="left:1215px;width:236px;top:1154px;height:2px;background:#a8afcb"></div>
<div class="hl" style="left:20px;width:531px;top:1208px;height:2px;background:#e6e8ee"></div>
<div class="hl" style="left:551px;width:1197px;top:1208px;height:2px;background:#e1d7ba"></div>
<div class="hl" style="left:1215px;width:236px;top:1208px;height:2px;background:#a8afcb"></div>
<div class="hl" style="left:20px;width:531px;top:1262px;height:1px;background:#e6e8ee"></div>
<div class="hl" style="left:551px;width:1197px;top:1262px;height:1px;background:#e1d7ba"></div>
<div class="hl" style="left:1215px;width:236px;top:1262px;height:1px;background:#a8afcb"></div>
<div class="vl" style="left:551px;width:1px;top:294px;height:969px;background:#e1d7ba"></div>
<div class="vl" style="left:787px;width:2px;top:294px;height:969px;background:#e1d7ba"></div>
<div class="vl" style="left:1008px;width:2px;top:294px;height:969px;background:#e1d7ba"></div>
<div class="vl" style="left:1215px;width:2px;top:294px;height:969px;background:#a8afcb"></div>
<div class="vl" style="left:1451px;width:2px;top:294px;height:969px;background:#e1d7ba"></div>
<div class="vl" style="left:1747px;width:1px;top:294px;height:969px;background:#e1d7ba"></div>
</body></html>
